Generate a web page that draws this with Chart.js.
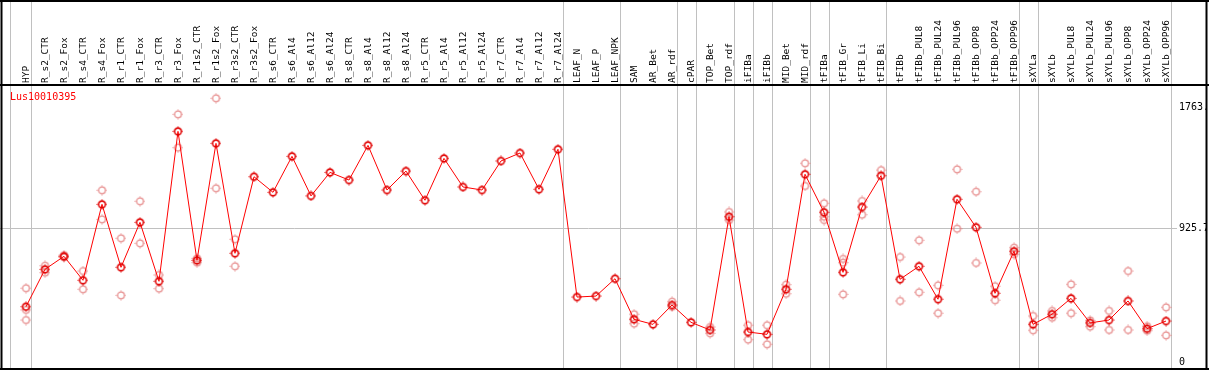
<!DOCTYPE html>
<html>
<head>
<meta charset="utf-8">
<title>Lus10010395</title>
<script src="https://cdn.jsdelivr.net/npm/chart.js@4.4.1/dist/chart.umd.min.js"></script>
<style>
    html, body { margin: 0; padding: 0; background: #ffffff; }
    #wrap { width: 1209px; height: 370px; }
</style>
</head>
<body>
<div id="wrap"><canvas id="expr" width="1209" height="370"></canvas></div>
<script>
// Sample groups (a grey separator is drawn after each group)
const groups = [
    ['HYP'],
    ['R_s2_CTR', 'R_s2_Fox', 'R_s4_CTR', 'R_s4_Fox', 'R_r1_CTR', 'R_r1_Fox', 'R_r3_CTR', 'R_r3_Fox',
     'R_r1s2_CTR', 'R_r1s2_Fox', 'R_r3s2_CTR', 'R_r3s2_Fox', 'R_s6_CTR', 'R_s6_Al4', 'R_s6_Al12',
     'R_s6_Al24', 'R_s8_CTR', 'R_s8_Al4', 'R_s8_Al12', 'R_s8_Al24', 'R_r5_CTR', 'R_r5_Al4',
     'R_r5_Al12', 'R_r5_Al24', 'R_r7_CTR', 'R_r7_Al4', 'R_r7_Al12', 'R_r7_Al24'],
    ['LEAF_N', 'LEAF_P', 'LEAF_NPK'],
    ['SAM', 'AR_Bet', 'AR_rdf'],
    ['cPAR'],
    ['TOP_Bet', 'TOP_rdf'],
    ['iFIBa'],
    ['iFIBb'],
    ['MID_Bet', 'MID_rdf'],
    ['tFIBa'],
    ['tFIB_Gr', 'tFIB_Li', 'tFIB_Bi'],
    ['tFIBb', 'tFIBb_PUL8', 'tFIBb_PUL24', 'tFIBb_PUL96', 'tFIBb_OPP8', 'tFIBb_OPP24', 'tFIBb_OPP96'],
    ['sXYLa'],
    ['sXYLb', 'sXYLb_PUL8', 'sXYLb_PUL24', 'sXYLb_PUL96', 'sXYLb_OPP8', 'sXYLb_OPP24', 'sXYLb_OPP96']
];
const categories = groups.flat();

const geneName = 'Lus10010395';

// mean expression per sample
const meanValues = [
    383, 642, 732, 566, 1092, 656, 967, 559, 1597, 704, 1514, 753, 1283, 1175, 1424, 1150,
    1313, 1260, 1500, 1191, 1322, 1120, 1410, 1212, 1191, 1392, 1447, 1196, 1473,
    450, 457, 577,
    296, 261, 395,
    275,
    222, 1006,
    208,
    192,
    504, 1300,
    1037,
    621, 1073, 1290,
    573, 663, 435, 1127, 933, 476, 767,
    261,
    331, 441, 271, 291, 423, 231, 284
];

// individual replicates (null = hidden under the mean / not shown)
const repA = [
    511, 667, 740, 630, 1189, 857, 1113, 603, 1715, 718, 1826, 850, null, null, null, null,
    null, null, null, null, null, null, null, null, null, null, null, null, null,
    null, null, null,
    331, null, 418,
    null,
    243, 1039,
    255,
    255,
    536, 1376,
    1099,
    714, 1115, 1329,
    727, 843, 531, 1334, 1179, 525, 792,
    319,
    354, 538, 289, 354, 630, 248, 379
];
const repB = [
    291, 619, 725, 504, 988, 462, 822, 508, 1484, 688, 1203, 663, null, null, null, null,
    null, null, null, null, null, null, null, null, null, null, null, null, null,
    null, null, null,
    266, null, 383,
    null,
    199, 983,
    155,
    123,
    473, 1219,
    983,
    469, 1020, null,
    423, 483, 338, 923, 686, 428, 746,
    220,
    307, 338, 245, 222, 222, 217, 185
];
const repC = [
    361, null, null, null, null, null, null, null, null, null, null, null, null, null, null, null,
    null, null, null, null, null, null, null, null, null, null, null, null, null,
    null, null, null,
    null, null, null,
    null,
    null, null,
    null,
    null,
    null, null,
    1006,
    688, null, null,
    null, null, null, null, null, null, null,
    null,
    null, null, null, null, null, null, null
];

// right-hand axis labels
const yTickValues = [0, 925.7, 1763];
const yTickLabels = ['0', '925.7', '1763.0'];

// small ring with four tiny ticks, used as point style
function makeMarker(color, lineWidth) {
    const c = document.createElement('canvas');
    c.width = 11;
    c.height = 11;
    const g = c.getContext('2d');
    g.strokeStyle = color;
    g.fillStyle = color;
    g.lineWidth = lineWidth;
    g.beginPath();
    g.arc(5.5, 5.5, 3.4, 0, Math.PI * 2);
    g.stroke();
    g.fillRect(5, 0.5, 1, 1);
    g.fillRect(5, 9.5, 1, 1);
    g.fillRect(0.5, 5, 1, 1);
    g.fillRect(9.5, 5, 1, 1);
    return c;
}

function toPoints(values) {
    return values.map(function(v, i) { return { x: i, y: v }; });
}

const MONO = '"DejaVu Sans Mono", "Liberation Mono", monospace';

const framePlugin = {
    id: 'framePlugin',
    beforeDatasetsDraw: function(chart) {
        const ctx = chart.ctx;
        const xs = chart.scales.x;
        const ys = chart.scales.y;
        const W = chart.width;
        const area = chart.chartArea;

        ctx.save();
        // horizontal grid line at middle tick
        ctx.strokeStyle = '#c0c0c0';
        ctx.lineWidth = 1;
        const gy = Math.round(ys.getPixelForValue(yTickValues[1])) + 0.5;
        ctx.beginPath();
        ctx.moveTo(0, gy);
        ctx.lineTo(1177, gy);
        ctx.stroke();

        // group separators, running through the header too
        const seps = [-0.83];
        let idx = -1;
        groups.forEach(function(grp) {
            idx += grp.length;
            seps.push(idx + 0.24);
        });
        seps.forEach(function(s) {
            const px = Math.round(xs.getPixelForValue(s)) + 0.5;
            ctx.beginPath();
            ctx.moveTo(px, 0);
            ctx.lineTo(px, chart.height);
            ctx.stroke();
        });

        // rotated sample names
        ctx.fillStyle = '#000000';
        ctx.font = '9.5px ' + MONO;
        ctx.textAlign = 'left';
        ctx.textBaseline = 'middle';
        categories.forEach(function(name, i) {
            const px = xs.getPixelForValue(i);
            ctx.save();
            ctx.translate(px + 0.5, 83);
            ctx.rotate(-Math.PI / 2);
            ctx.fillText(name, 0, 0);
            ctx.restore();
        });

        // gene name
        ctx.font = '10px ' + MONO;
        ctx.fillStyle = '#ff0000';
        ctx.textBaseline = 'top';
        ctx.fillText(geneName, 10, 92);

        // right axis labels, clipped by the frame
        ctx.save();
        ctx.beginPath();
        ctx.rect(0, 0, W - 3, chart.height);
        ctx.clip();
        ctx.fillStyle = '#000000';
        ctx.textBaseline = 'middle';
        yTickValues.forEach(function(v, i) {
            ctx.fillText(yTickLabels[i], 1179, ys.getPixelForValue(v));
        });
        ctx.restore();

        // black frame
        ctx.strokeStyle = '#000000';
        ctx.lineWidth = 2;
        ctx.beginPath();
        ctx.moveTo(0, 1);
        ctx.lineTo(W, 1);
        ctx.moveTo(0, area.top - 1);
        ctx.lineTo(W, area.top - 1);
        ctx.moveTo(0, 369);
        ctx.lineTo(W, 369);
        ctx.moveTo(1.5, 0);
        ctx.lineTo(1.5, chart.height);
        ctx.moveTo(W - 2.5, 0);
        ctx.lineTo(W - 2.5, chart.height);
        ctx.stroke();
        ctx.restore();
    }
};

const repMarker = makeMarker('rgba(226, 120, 120, 0.85)', 1.3);
const meanMarker = makeMarker('#e00000', 1.6);

function repDataset(values) {
    return {
        data: toPoints(values),
        showLine: false,
        pointStyle: repMarker,
        pointRadius: 5,
        clip: false,
        order: 1
    };
}

new Chart(document.getElementById('expr'), {
    type: 'line',
    data: {
        datasets: [
            {
                data: toPoints(meanValues),
                borderColor: '#ff0000',
                borderWidth: 1,
                pointStyle: meanMarker,
                pointRadius: 5,
                tension: 0,
                clip: false,
                order: 0
            },
            repDataset(repA),
            repDataset(repB),
            repDataset(repC)
        ]
    },
    options: {
        responsive: false,
        animation: false,
        devicePixelRatio: 1,
        layout: {
            autoPadding: false,
            padding: { left: 2, right: 38, top: 86, bottom: 1 }
        },
        plugins: {
            legend: { display: false },
            tooltip: { enabled: false },
            title: { display: false }
        },
        scales: {
            x: {
                type: 'linear',
                display: false,
                min: -1.263,
                max: 60.263
            },
            y: {
                type: 'linear',
                display: false,
                min: -48,
                max: 1911
            }
        }
    },
    plugins: [framePlugin]
});
</script>
</body>
</html>
